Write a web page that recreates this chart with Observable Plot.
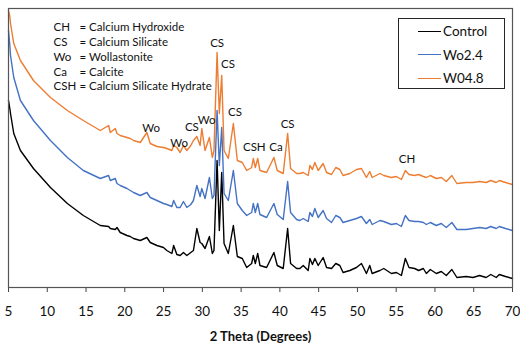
<!DOCTYPE html>
<html><head><meta charset="utf-8">
<script src="https://cdn.jsdelivr.net/npm/d3@7"></script>
<script src="https://cdn.jsdelivr.net/npm/@observablehq/plot@0.6"></script>
<style>
body{margin:0;background:#fff;font-family:Lato,sans-serif}
#wrap{position:relative;width:520px;height:347px;overflow:hidden}
#legend{position:absolute;left:398px;top:18px;width:107px;height:71px;border:1.5px solid #262626;box-sizing:border-box;background:#fff}
.row{position:absolute;left:0;height:20px;display:flex;align-items:center;font:13.5px Lato,sans-serif;color:#111}
.row span.ln{display:inline-block;width:23px;height:0;margin-left:19px;margin-right:2px}
</style></head><body><div id="wrap"></div><script>
// 2-theta angles (degrees)
const theta = [5.00,5.17,5.26,5.68,6.54,8.22,10.41,12.59,14.65,16.84,17.91,18.13,18.77,18.99,19.41,20.28,20.70,21.13,21.99,22.85,23.28,24.14,24.99,25.42,26.07,26.30,26.71,27.14,27.56,28.00,28.51,28.85,29.29,29.71,29.93,30.35,30.91,31.29,31.50,31.90,32.19,32.50,32.80,33.35,34.00,34.51,35.15,35.72,36.36,36.57,36.83,37.14,37.43,38.29,39.23,39.66,40.43,41.00,41.38,42.16,42.58,43.01,43.65,43.87,44.20,44.51,44.94,45.58,46.02,46.66,47.21,47.73,48.15,49.02,49.88,50.52,51.16,51.59,51.90,52.90,53.40,54.38,55.03,55.67,56.18,56.65,57.38,57.90,58.50,58.89,59.40,60.17,60.82,61.46,62.18,62.83,64.03,64.90,65.75,66.60,67.20,67.90,68.30,69.10,70.00];
// intensities (a.u., offset traces)
const control = [187,179,174,154,137,119,100,84,72,62,61,59,58,60,55,52,51,49,47,50,45,42,40,37,34,42,33,32,35,32,35,37,59,45,44,39,51,34,37,127,57,115,44,34,62,31,29,20,24,32,24,34,22,20,35,22,19,59,24,19,19,22,17,29,23,29,22,30,20,19,24,22,15,17,20,24,14,22,14,17,19,14,15,12,29,20,19,17,19,14,18,14,16,12,18,10,11,10,12,10,13,10,13,11,9];
const wo24 = [257,242,232,210,187,167,147,130,117,109,112,107,109,104,102,99,97,95,92,95,90,87,84,83,81,87,80,80,86,80,83,87,102,91,99,89,110,89,92,177,122,160,94,87,117,84,77,72,75,84,75,84,73,70,84,73,68,106,75,68,67,69,66,75,71,79,70,77,69,65,72,70,65,67,69,71,64,68,63,67,66,63,64,61,72,67,66,66,65,63,65,62,64,60,65,58,58,59,60,59,61,59,61,59,57];
const wo48 = [277,271,264,244,227,207,190,177,167,157,162,155,159,154,152,150,149,147,145,155,144,141,140,139,137,142,140,135,142,137,142,147,151,142,159,137,150,130,137,235,174,212,137,129,164,127,125,117,120,129,120,129,117,115,130,117,114,154,119,114,114,115,112,122,118,125,117,124,115,113,120,118,112,114,118,119,110,116,110,114,112,110,111,108,117,113,112,113,111,110,112,109,110,106,112,104,105,105,106,105,107,105,107,105,103];
const seriesNames = ["Control","Wo2.4","W04.8"];
const seriesColors = ["#000000","#4472C4","#ED7D31"];
// peak labels
const peakText = ["CS","CS","Wo","CS","CS","CSH","Ca","CS","Wo","Wo","CH"];
const peakTheta = [31.9,33.3,30.55,28.65,34.2,36.7,39.5,41.0,23.4,27.0,56.4];
const peakV = [244,223,167,160,175,140,140,163,159,144,128];
const abbrs = ["CH","CS","Wo","Ca","CSH"];
const defs = ["= Calcium Hydroxide","= Calcium Silicate","= Wollastonite","= Calcite","= Calcium Silicate Hydrate"];
const xTicks = d3.range(5, 71, 5);

const traces = [control, wo24, wo48].map((vals, s) => theta.map((t, i) => ({theta: t, v: vals[i], series: seriesNames[s]})));
const peaks = peakText.map((t, i) => ({label: t, theta: peakTheta[i], v: peakV[i]}));

const chart = Plot.plot({
  width: 520, height: 347,
  marginLeft: 8, marginRight: 8, marginTop: 8, marginBottom: 60,
  style: {fontFamily: "Lato, sans-serif", background: "#fff", color: "#111"},
  x: {domain: [5, 70], ticks: xTicks},
  y: {domain: [0, 279], axis: null},
  marks: [
    Plot.axisX({ticks: xTicks, tickSize: 5, tickPadding: 14, fontSize: 13.5, label: null, stroke: "#444"}),
    ...traces.map((tr, s) => Plot.line(tr, {x: "theta", y: "v", stroke: seriesColors[s], strokeWidth: 1.4})),
    Plot.frame({stroke: "#555", strokeWidth: 1.2}),
    Plot.text(peaks, {x: "theta", y: "v", text: "label", fontSize: 11.5, fill: "#111"}),
    Plot.text([abbrs.join("\n")], {frameAnchor: "top-left", dx: 45, dy: 12, lineAnchor: "top", lineHeight: 1.29, fontSize: 11.5, textAnchor: "start", fill: "#111"}),
    Plot.text([defs.join("\n")], {frameAnchor: "top-left", dx: 71, dy: 12, lineAnchor: "top", lineHeight: 1.29, fontSize: 11.5, textAnchor: "start", fill: "#111"}),
    Plot.text(["2 Theta (Degrees)"], {frameAnchor: "bottom", dy: 53, fontSize: 13, fontWeight: "bold", fill: "#111"})
  ]
});
const wrap = document.getElementById("wrap");
wrap.appendChild(chart);
const legend = document.createElement("div");
legend.id = "legend";
seriesNames.forEach((n, i) => {
  const r = document.createElement("div");
  r.className = "row";
  r.style.top = (2 + i * 23.5) + "px";
  const ln = document.createElement("span");
  ln.className = "ln";
  ln.style.borderTop = "1.5px solid " + seriesColors[i];
  r.appendChild(ln);
  r.appendChild(document.createTextNode(n));
  legend.appendChild(r);
});
wrap.appendChild(legend);
</script></body></html>
